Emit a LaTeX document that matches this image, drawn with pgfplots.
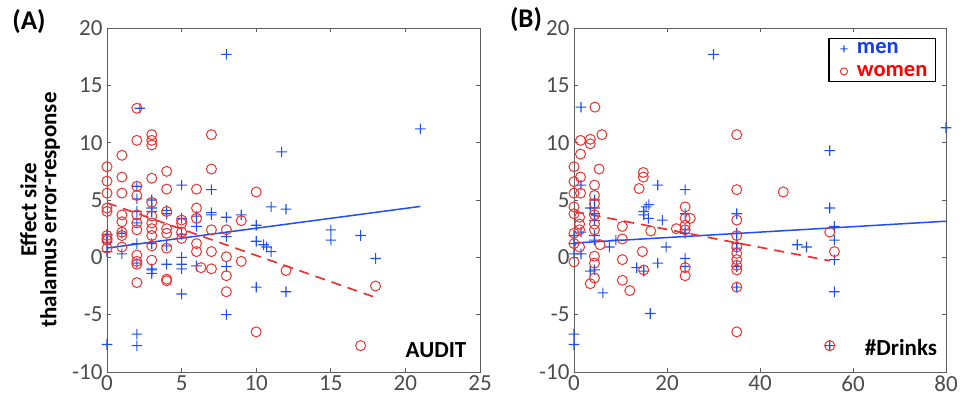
\documentclass[border=0pt]{standalone}
\usepackage{fontspec}
\setmainfont{Carlito}
\usepackage{pgfplots}
\pgfplotsset{compat=1.18}
\definecolor{menblue}{RGB}{30,80,240}
\definecolor{womenred}{RGB}{238,50,50}
\definecolor{legblue}{RGB}{20,60,235}
\definecolor{legred}{RGB}{255,0,0}
\definecolor{axgray}{RGB}{95,95,95}
\pgfdeclareplotmark{bplus}{%
  \pgfpathrectangle{\pgfpoint{-\pgfplotmarksize}{-0.55pt}}{\pgfpoint{2\pgfplotmarksize}{1.1pt}}%
  \pgfpathrectangle{\pgfpoint{-0.55pt}{-\pgfplotmarksize}}{\pgfpoint{1.1pt}{2\pgfplotmarksize}}%
  \pgfusepathqfill}
\pgfplotsset{
  myaxis/.style={
    scale only axis, height=344pt, ymin=-10, ymax=20, ytick={-10,-5,...,20},
    axis line style={axgray, line width=0.9pt},
    tick style={axgray, line width=0.8pt},
    major tick length=4pt, tick align=inside,
    tick label style={font=\fontsize{23}{25}\selectfont, text=black!70},
    yticklabel style={xshift=-1pt},
    /pgf/number format/assume math mode=true,
    clip=false,
  },
  men/.style={only marks, mark=bplus, mark size=5.3pt, color=menblue,
     mark options={fill=menblue, draw=none}},
  women/.style={only marks, mark=o, mark size=5pt, draw=womenred, color=womenred,
     mark options={draw=womenred, fill=none, line width=1.0pt}},
}
\begin{document}
\begin{tikzpicture}
% ---------------- Panel A ----------------
\begin{axis}[myaxis, at={(107pt,35pt)}, anchor=south west, width=373pt,
  xmin=0, xmax=25, xtick={0,5,...,25}]
\addplot[men] coordinates {
(0,-7.6) (0,0.5) (0,1.3) (0,2.0) (1,0.3) (1,2.1) (2.2,13.0) (2,6.2) (2,5.1) (2,4.0)
(2,3.0) (2,1.2) (2,-0.5) (2,-6.7) (2,-7.7) (3,5.0) (3,4.3) (3,4.0) (3,1.2) (3,-1.1)
(3,-1.4) (3,-1.0) (4,4.1) (4,3.8) (4,1.0) (4,-0.6) (5,6.3) (5,3.4) (5,2.0) (5,0.0)
(5,-0.6) (5,-1.0) (5,-3.2) (6,3.6) (6,2.7) (6,-0.75) (7,5.9) (7,3.9) (7,3.7) (8,17.7)
(8,3.5) (8,1.8) (8,-0.8) (8,-5.0) (9,3.7) (10,2.8) (10,1.4) (10,-2.6) (10.5,1.1) (10.7,0.9)
(11,0.5) (11,4.4) (11.7,9.2) (12,4.2) (12,-3.0) (15,2.4) (15,1.5) (17,1.9) (18,-0.1) (21,11.2)
};
\addplot[women] coordinates {
(0,7.9) (0,6.65) (0,5.6) (0,4.3) (0,4.0) (0,1.9) (0,1.65) (0,1.5) (0,0.8)
(1,8.9) (1,7.0) (1,5.6) (1,3.7) (1,3.1) (1,2.2) (1,1.9) (1,0.9)
(2,13.0) (2,10.2) (2,6.2) (2,5.4) (2,3.7) (2,3.0) (2,2.4) (2,0.2) (2,-0.35) (2,-0.6) (2,-2.2)
(3,10.7) (3,10.2) (3,9.8) (3,6.9) (3,4.8) (3,3.6) (3,3.0) (3,2.5) (3,1.9) (3,1.0) (3,-0.24)
(4,7.5) (4,5.95) (4,4.0) (4,2.5) (4,2.1) (4,0.8) (4,-1.9) (4,-2.05)
(5,3.25) (5,2.96) (5,2.2) (5,1.65)
(6,5.95) (6,4.3) (6,3.4) (6,1.2) (6,0.5) (6.3,-0.9)
(7,10.7) (7,7.7) (7,2.4) (7,0.5) (7,-1.0)
(8,2.4) (8,0.05) (8,-1.6) (8,-3.0) (9,3.2) (9,-0.35)
(10,5.7) (10,-6.5) (12,-1.15) (17,-7.7) (18,-2.5)
};
\addplot[menblue, line width=1.5pt, no marks] coordinates {(0,0.81) (21,4.44)};
\addplot[womenred, line width=1.7pt, dash pattern=on 10pt off 7pt, no marks] coordinates {(0,4.75) (18,-3.5)};
\end{axis}
% ---------------- Panel B ----------------
\begin{axis}[myaxis, at={(574pt,35pt)}, anchor=south west, width=372pt,
  xmin=0, xmax=80, xtick={0,20,...,80},
  legend style={at={(rel axis cs:0.973,0.971)}, anchor=north east, draw=black,
    line width=1.2pt, fill=white, font=\bfseries\fontsize{22.5}{24}\selectfont,
    inner xsep=4pt, inner ysep=2pt, row sep=6pt,
    nodes={inner xsep=4pt, inner ysep=2pt}},
  legend cell align=left,
  legend image code/.code={\path[draw=none, fill=none] (-11pt,0pt) rectangle (9pt,0.1pt);
     \draw[#1, mark size=3.6pt] plot coordinates {(0pt,0pt)};}]
\addplot[men] coordinates {
(0,-6.7) (0,-7.6) (0,1.9) (0,1.2) (0,0.3) (1.5,13.1) (1.5,6.3) (1.5,2.2) (1.5,0.3)
(3.5,4.3) (3.5,-1.2) (4.4,5.0) (4.4,4.3) (4.4,3.8) (4.4,3.2) (4.4,1.9) (4.4,1.5) (4.4,-1.1)
(6.2,-3.1) (7.6,0.9) (9,1.5) (13.5,-0.9) (15,-1.2) (16.4,-4.9) (18,-0.5) (19.8,0.9)
(15,4.0) (15,3.7) (16,3.4) (15.5,4.4) (16.1,4.6) (19,3.25) (18,6.3)
(23.9,5.9) (23.9,3.8) (23.9,2.4) (23.9,2.1) (23.9,-0.1) (23.9,-0.8) (30,17.7)
(35,3.8) (35,2.1) (35,1.2) (35,0.8) (35,-0.8) (35,-2.6) (48,1.1) (50,0.9)
(55,9.3) (55,4.3) (55,-7.7) (56,2.7) (56,1.5) (56,-0.2) (56,-3.0) (80,11.3)
};
\addlegendentry{\textcolor{legblue}{men}}
\addplot[women] coordinates {
(0,7.9) (0,6.6) (0,5.6) (0,4.4) (0,3.8) (0,2.1) (0,1.2) (0,-0.4)
(1.4,10.2) (1.4,9.0) (1.4,7.0) (1.4,5.6) (1.2,3.5) (1.2,2.9) (1.2,2.4) (1.2,0.9)
(3.5,10.3) (3.5,9.9) (3.5,-2.3) (4.5,13.1) (4.4,6.3) (4.4,5.4) (4.4,4.7) (4.4,3.7)
(4.4,2.9) (4.4,2.4) (4.4,0.1) (4.4,-0.5) (4.4,-1.8) (5.4,7.7) (6,10.7) (5.6,1.1)
(10.4,2.7) (10.4,1.6) (10.4,-0.2) (10.4,-2.0) (12,-2.9) (14,6.0) (14.9,7.4) (14.9,7.0)
(14.7,0.5) (15,-1.1) (16.5,2.3) (22,2.5) (23.9,4.4) (23.9,3.4) (23.9,2.8) (23.9,2.4)
(25,3.4) (23.9,-0.9) (23.9,-1.6) (35,10.7) (35,5.9) (35,3.25) (35,1.9) (35,0.9)
(35,0.35) (35,-0.2) (35,-0.7) (35,-1.1) (35,-2.6) (35,-6.5) (45,5.7) (55,2.2) (56,0.5) (55,-7.7)
};
\addlegendentry{\textcolor{legred}{women}}
\addplot[menblue, line width=1.5pt, no marks, forget plot] coordinates {(0,1.25) (80,3.15)};
\addplot[womenred, line width=1.7pt, dash pattern=on 10pt off 7pt, no marks, forget plot] coordinates {(0,4.0) (55,-0.3)};
\end{axis}
% ---------------- Texts ----------------
\node[font=\bfseries\fontsize{27}{28}\selectfont] at (29pt,385pt) {(A)};
\node[font=\bfseries\fontsize{27}{28}\selectfont] at (526pt,387pt) {(B)};
\node[rotate=90, align=center, font=\bfseries\fontsize{23}{20}\selectfont] at (40pt,197pt) {Effect size\\thalamus error-response};
\node[font=\bfseries\fontsize{23}{24}\selectfont] at (436pt,57pt) {AUDIT};
\node[font=\bfseries\fontsize{23}{24}\selectfont] at (901pt,59pt) {\#Drinks};
\pgfresetboundingbox
\useasboundingbox (0,0) rectangle (965pt,407pt);
\end{tikzpicture}
\end{document}
